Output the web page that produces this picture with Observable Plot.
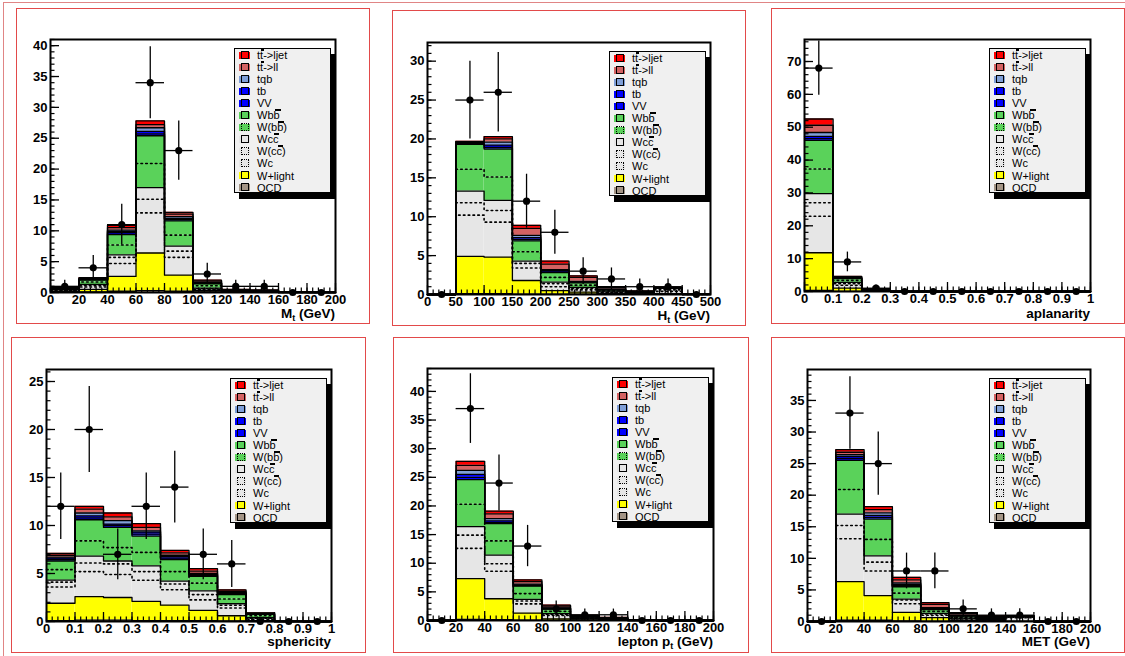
<!DOCTYPE html>
<html><head><meta charset="utf-8">
<script src="https://cdn.jsdelivr.net/npm/d3@7"></script>
<script src="https://cdn.jsdelivr.net/npm/@observablehq/plot@0.6"></script>
<style>
html,body{margin:0;padding:0;background:#fff}
body{width:1125px;height:656px;overflow:hidden;position:relative;font-family:"Liberation Sans",Arial,Helvetica,sans-serif}
.page{position:absolute;left:3px;top:2px;width:1140px;height:670px;border-left:1px solid #e08585;border-top:1px solid #e08585}
.box{position:absolute;border:1px solid #e24a4a;box-sizing:border-box}
.legend{position:absolute;width:97px;height:145px;background:#f0f0f0;border:1px solid #000;box-sizing:border-box;box-shadow:5px 6px 0 #000;font-size:11px;color:#000}
.row{position:absolute;left:0;height:12px;width:95px}
.sw{position:absolute;left:4px;top:2.5px;width:11px;height:7px}
.sq{position:absolute;left:6px;top:1.5px;width:6px;height:6px;border:1.4px solid #000}
.sq.dot{border:1.4px dotted #000}
.lab{position:absolute;left:22px;top:0;line-height:12px;white-space:nowrap}
.ov{position:relative}
.ov::before{content:"";position:absolute;left:1px;right:-1px;top:0px;height:1.8px;background:#000}
.xt{position:absolute;width:250px;text-align:right;font-weight:bold;font-size:13.5px;line-height:13.5px;white-space:nowrap}
.xt sub{font-size:9px;vertical-align:-3px;line-height:0}
</style>
</head><body>
<div class="page"></div>
<script>
// ---- stack components (bottom -> top) ----
const layers = ["QCD","W+light","Wc","W(cc)","Wcc","W(bb)","Wbb","VV","tb","tqb","tt->ll","tt->ljet"];
const layerColors = ["#a39485","#ffff00","#e6e6e6","#e6e6e6","#e6e6e6","#5ad25a","#5ad25a","#0000ff","#0000ff","#7f9fd8","#d46262","#ff0000"];
const layerDotted = [false,false,true,true,false,true,false,false,false,false,false,false];
// legend, top -> bottom
const legendLabels = ['t<span class="ov">t</span>-&gt;ljet','t<span class="ov">t</span>-&gt;ll','tqb','tb','VV','Wb<span class="ov">b</span>','W(b<span class="ov">b</span>)','Wc<span class="ov">c</span>','W(c<span class="ov">c</span>)','Wc','W+light','QCD'];

// ---- Panel 1: M_t ----
const mtEdges = [0,20,40,60,80,100,120,140,160,180,200];
const mtData  = [1,4,11,34,23,3,1,1,0,0];
const mtXTicks = [0,20,40,60,80,100,120,140,160,180,200];
const mtYTicks = [0,5,10,15,20,25,30,35,40];
// cumulative tops of each stacked component (rows follow `layers`)
const mtStack = [
 [0.1,0.1,0.2,0.3,0.2,0.1,0.05,0.05,0,0],
 [0.2,0.5,2.6,6.4,2.8,0.3,0.1,0.1,0,0],
 [0.3,0.9,4.7,12.9,5.7,0.5,0.15,0.12,0.02,0],
 [0.4,1.1,5.7,15.1,6.7,0.6,0.2,0.15,0.03,0],
 [0.45,1.3,6.1,17.0,7.5,0.7,0.25,0.18,0.04,0],
 [0.55,1.7,7.7,20.9,9.3,1.1,0.3,0.22,0.05,0],
 [0.65,2.0,9.4,25.4,11.6,1.4,0.35,0.26,0.06,0.02],
 [0.68,2.1,9.7,25.7,11.8,1.5,0.38,0.28,0.06,0.02],
 [0.7,2.15,9.9,26.1,12.0,1.55,0.4,0.3,0.07,0.02],
 [0.72,2.2,10.1,26.7,12.3,1.65,0.43,0.33,0.07,0.02],
 [0.76,2.3,10.5,27.2,12.7,1.85,0.47,0.37,0.08,0.03],
 [0.8,2.4,10.9,27.8,13.0,2.0,0.5,0.4,0.1,0.04]
];

// ---- Panel 2: H_t ----
const htEdges = [0,50,100,150,200,250,300,350,400,450,500];
const htData  = [0,25,26,12,8,3,2,1,1,0];
const htXTicks = [0,50,100,150,200,250,300,350,400,450,500];
const htYTicks = [0,5,10,15,20,25,30];
const htStack = [
 [0,0.1,0.1,0.05,0.05,0.05,0.05,0.05,0.05,0],
 [0,4.9,4.8,1.8,0.5,0.3,0.1,0.08,0.1,0],
 [0,10.2,9.3,3.4,1.0,0.6,0.2,0.12,0.4,0.02],
 [0,11.8,10.8,4.0,1.4,0.8,0.28,0.15,0.6,0.03],
 [0,13.3,12.1,4.3,1.6,0.9,0.33,0.18,0.8,0.04],
 [0,16.1,15.1,5.5,2.2,1.2,0.45,0.22,0.82,0.05],
 [0,19.3,18.7,6.9,2.8,1.5,0.55,0.28,0.84,0.06],
 [0,19.4,18.9,7.1,3.0,1.6,0.6,0.3,0.85,0.06],
 [0,19.5,19.2,7.3,3.1,1.65,0.65,0.32,0.86,0.07],
 [0,19.55,19.6,7.6,3.2,1.7,0.7,0.35,0.87,0.07],
 [0,19.6,20.0,8.5,3.9,2.2,0.9,0.42,0.9,0.08],
 [0,19.7,20.3,8.9,4.3,2.4,1.0,0.45,0.92,0.08]
];

// ---- Panel 3: aplanarity ----
const apEdges = [0,0.1,0.2,0.3,0.4,0.5,0.6,0.7,0.8,0.9,1];
const apData  = [68,9,1,0,0,0,0,0,0,0];
const apXTicks = [0,0.1,0.2,0.3,0.4,0.5,0.6,0.7,0.8,0.9,1];
const apYTicks = [0,10,20,30,40,50,60,70];
const apStack = [
 [0.3,0.05,0.02,0,0,0,0,0,0,0],
 [11.8,1.0,0.15,0,0,0,0,0,0,0],
 [22.9,1.9,0.3,0,0,0,0,0,0,0],
 [27.0,2.4,0.35,0,0,0,0,0,0,0],
 [29.8,2.8,0.4,0,0,0,0,0,0,0],
 [37.3,3.4,0.5,0,0,0,0,0,0,0],
 [46.0,3.9,0.6,0,0,0,0,0,0,0],
 [46.5,4.0,0.63,0,0,0,0,0,0,0],
 [47.2,4.1,0.66,0,0,0,0,0,0,0],
 [48.4,4.2,0.7,0,0,0,0,0,0,0],
 [50.6,4.45,0.8,0,0,0,0,0,0,0],
 [52.5,4.6,0.9,0,0,0,0,0,0,0]
];

// ---- Panel 4: sphericity ----
const spEdges = [0,0.1,0.2,0.3,0.4,0.5,0.6,0.7,0.8,0.9,1];
const spData  = [12,20,7,12,14,7,6,0,0,0];
const spXTicks = [0,0.1,0.2,0.3,0.4,0.5,0.6,0.7,0.8,0.9,1];
const spYTicks = [0,5,10,15,20,25];
const spStack = [
 [0.1,0.15,0.15,0.1,0.1,0.08,0.05,0.01,0,0],
 [1.9,2.6,2.5,2.1,1.7,1.15,0.6,0.1,0,0],
 [3.6,5.2,4.9,4.3,3.3,2.25,1.4,0.25,0,0],
 [4.1,6.1,6.0,5.2,3.9,2.8,1.7,0.35,0,0],
 [4.3,6.8,6.3,5.8,4.2,3.2,1.85,0.4,0,0],
 [5.4,8.4,7.7,7.2,5.2,4.0,2.35,0.6,0,0],
 [6.3,10.6,9.8,8.9,6.45,4.7,2.8,0.75,0.01,0],
 [6.45,10.8,10.0,9.1,6.6,4.8,2.9,0.78,0.01,0],
 [6.6,11.0,10.15,9.3,6.75,4.9,2.95,0.8,0.01,0],
 [6.7,11.3,10.5,9.45,6.9,5.0,3.0,0.82,0.01,0],
 [6.9,11.7,10.9,9.8,7.15,5.25,3.15,0.86,0.02,0],
 [7.1,12.0,11.3,10.2,7.4,5.5,3.3,0.9,0.02,0]
];

// ---- Panel 5: lepton p_t ----
const ptEdges = [0,20,40,60,80,100,120,140,160,180,200];
const ptData  = [0,37,24,13,2,1,1,0,0,0];
const ptXTicks = [0,20,40,60,80,100,120,140,160,180,200];
const ptYTicks = [0,5,10,15,20,25,30,35,40];
const ptStack = [
 [0,0.2,0.15,0.05,0.02,0.01,0.01,0,0,0],
 [0,7.3,3.8,1.3,0.3,0.1,0.05,0,0,0],
 [0,12.6,8.6,2.9,0.9,0.3,0.15,0.02,0,0],
 [0,14.9,9.9,3.4,1.1,0.35,0.2,0.03,0,0],
 [0,16.4,11.4,3.7,1.2,0.4,0.25,0.04,0,0],
 [0,20.3,13.9,4.7,1.6,0.5,0.3,0.05,0,0],
 [0,24.6,16.9,6.0,2.0,0.6,0.35,0.06,0,0],
 [0,25.0,17.1,6.1,2.1,0.65,0.37,0.06,0,0],
 [0,25.5,17.4,6.2,2.15,0.7,0.4,0.07,0,0],
 [0,26.2,17.8,6.35,2.2,0.72,0.42,0.07,0,0],
 [0,27.1,18.6,6.8,2.5,0.8,0.5,0.08,0,0],
 [0,27.8,19.1,7.1,2.7,0.9,0.55,0.1,0,0]
];

// ---- Panel 6: MET ----
const metEdges = [0,20,40,60,80,100,120,140,160,180,200];
const metData  = [0,33,25,8,8,2,1,1,0,0];
const metXTicks = [0,20,40,60,80,100,120,140,160,180,200];
const metYTicks = [0,5,10,15,20,25,30,35];
const metStack = [
 [0,0.2,0.2,0.1,0.05,0.03,0.02,0.01,0,0],
 [0,6.3,4.1,1.45,0.6,0.2,0.1,0.05,0,0],
 [0,13.1,8.0,2.8,1.0,0.4,0.2,0.6,0,0],
 [0,15.2,9.4,3.4,1.2,0.5,0.25,0.7,0,0],
 [0,17.0,10.4,3.55,1.3,0.55,0.3,0.8,0,0],
 [0,20.9,13.0,4.5,1.6,0.7,0.4,0.82,0,0],
 [0,25.5,16.2,5.5,1.9,0.85,0.5,0.84,0,0],
 [0,25.8,16.5,5.7,2.0,0.9,0.55,0.85,0,0],
 [0,26.1,16.8,5.9,2.1,0.95,0.6,0.86,0,0],
 [0,26.4,17.2,6.1,2.2,1.0,0.65,0.87,0,0],
 [0,26.8,17.7,6.6,2.7,1.25,0.8,0.9,0,0],
 [0,27.2,18.2,7.0,3.0,1.4,0.9,0.92,0,0]
];

// ---- layout ----
const panels = [
 {edges:mtEdges,data:mtData,stack:mtStack,xTicks:mtXTicks,yTicks:mtYTicks,yMax:41,xMinor:4,yMinor:1,box:[16,8,369,323],frame:[50,39,335,292],title:'M<sub>t</sub> (GeV)',base:318},
 {edges:htEdges,data:htData,stack:htStack,xTicks:htXTicks,yTicks:htYTicks,yMax:32.4,xMinor:10,yMinor:1,box:[392,10,745,325],frame:[427,42,710,294],title:'H<sub>t</sub> (GeV)',base:320},
 {edges:apEdges,data:apData,stack:apStack,xTicks:apXTicks,yTicks:apYTicks,yMax:76.7,xMinor:0.02,yMinor:2,box:[771,8,1124,323],frame:[804,39,1090,291],title:'aplanarity',base:318},
 {edges:spEdges,data:spData,stack:spStack,xTicks:spXTicks,yTicks:spYTicks,yMax:26.25,xMinor:0.02,yMinor:1,box:[11,337,365,652],frame:[46,369,331,621],title:'sphericity',base:646},
 {edges:ptEdges,data:ptData,stack:ptStack,xTicks:ptXTicks,yTicks:ptYTicks,yMax:44,xMinor:4,yMinor:1,box:[393,337,748,652],frame:[427,368,713,620],title:'lepton p<sub>t</sub> (GeV)',base:646},
 {edges:metEdges,data:metData,stack:metStack,xTicks:metXTicks,yTicks:metYTicks,yMax:39.9,xMinor:4,yMinor:1,box:[771,337,1124,652],frame:[807,369,1090,621],title:'MET (GeV)',base:646}
];

function el(cls, css, html) {
  const d = document.createElement("div");
  d.className = cls;
  Object.assign(d.style, css);
  if (html != null) d.innerHTML = html;
  document.body.appendChild(d);
  return d;
}

function drawPanel(p) {
  const [bL,bT,bR,bB] = p.box, [fL,fT,fR,fB] = p.frame;
  const W = bR - bL, H = bB - bT;
  const nb = p.edges.length - 1;
  const xMin = p.edges[0], xMax = p.edges[nb];
  const rects = [], steps = [];
  layers.forEach((name, li) => {
    for (let b = 0; b < nb; b++) {
      const y2 = p.stack[li][b], y1 = li ? p.stack[li-1][b] : 0;
      if (y2 > y1) rects.push({layer:name, x1:p.edges[b], x2:p.edges[b+1], y1, y2});
      steps.push({layer:name, dotted:layerDotted[li], x:p.edges[b], y:y2});
      steps.push({layer:name, dotted:layerDotted[li], x:p.edges[b+1], y:y2});
    }
  });
  const pts = p.data.map((n, b) => ({lo:p.edges[b], hi:p.edges[b+1], c:(p.edges[b]+p.edges[b+1])/2, n, e:Math.sqrt(n)}));
  const innerW = fR - fL, innerH = fB - fT;
  const xMajLen = 9 * p.yMax / innerH, xMinLen = 4.5 * p.yMax / innerH;
  const yMajLen = 9 * (xMax - xMin) / innerW, yMinLen = 4.5 * (xMax - xMin) / innerW;
  const xMinorTicks = d3.range(xMin, xMax + 1e-9, p.xMinor);
  const yMinorTicks = d3.range(0, p.yMax + 1e-9, p.yMinor);

  el("box", {left:bL+"px", top:bT+"px", width:(bR-bL+1)+"px", height:(bB-bT+1)+"px"});

  const svg = Plot.plot({
    width: W, height: H,
    marginLeft: fL - bL, marginRight: bR - fR, marginTop: fT - bT, marginBottom: bB - fB,
    x: {domain: [xMin, xMax]},
    y: {domain: [0, p.yMax]},
    color: {domain: layers, range: layerColors},
    style: {fontFamily: "'Liberation Sans', Arial, Helvetica, sans-serif", fontSize: "13px", fontWeight: "bold", background: "transparent", color: "#000", overflow: "visible"},
    marks: [
      Plot.rect(rects, {x1:"x1", x2:"x2", y1:"y1", y2:"y2", fill:"layer"}),
      Plot.line(steps.filter(d => !d.dotted), {x:"x", y:"y", z:"layer", stroke:"#000", strokeWidth:1.3}),
      Plot.line(steps.filter(d => d.dotted), {x:"x", y:"y", z:"layer", stroke:"#000", strokeWidth:1.6, strokeDasharray:"1.6,3.2"}),
      Plot.ruleY(pts, {y:"n", x1:"lo", x2:"hi", stroke:"#000", strokeWidth:1.3}),
      Plot.ruleX(pts, {x:"c", y1:d => d.n - d.e, y2:d => d.n + d.e, stroke:"#000", strokeWidth:1.3}),
      Plot.dot(pts, {x:"c", y:"n", r:3.6, fill:"#000", stroke:"none"}),
      Plot.ruleX(p.xTicks, {x:d => d, y1:0, y2:xMajLen, stroke:"#000", strokeWidth:1.3}),
      Plot.ruleX(xMinorTicks, {x:d => d, y1:0, y2:xMinLen, stroke:"#000", strokeWidth:1.2}),
      Plot.ruleY(p.yTicks, {y:d => d, x1:xMin, x2:xMin + yMajLen, stroke:"#000", strokeWidth:1.3}),
      Plot.ruleY(yMinorTicks, {y:d => d, x1:xMin, x2:xMin + yMinLen, stroke:"#000", strokeWidth:1.2}),
      Plot.frame({stroke:"#000", strokeWidth:2}),
      Plot.axisX({ticks:p.xTicks, tickSize:0, tickPadding:2, label:null, tickFormat:d => String(d)}),
      Plot.axisY({ticks:p.yTicks, tickSize:0, tickPadding:3, label:null, tickFormat:d => String(d)})
    ]
  });
  svg.style.left = bL + "px";
  svg.style.top = bT + "px";
  svg.style.position = "absolute";
  document.body.appendChild(svg);

  // x-axis title
  el("xt", {left:(fR - 250)+"px", top:(p.base - 11.4)+"px"}, p.title);

  // legend
  const lg = el("legend", {left:(fR - 4 - 97)+"px", top:(fT + 9)+"px"});
  legendLabels.forEach((lab, i) => {
    const li = layers.length - 1 - i;
    const row = document.createElement("div");
    row.className = "row";
    row.style.top = (i * 12.05) + "px";
    row.innerHTML = `<div class="sw" style="background:${layerColors[li]}"></div><div class="sq${layerDotted[li] ? " dot" : ""}"></div><div class="lab">${lab}</div>`;
    lg.appendChild(row);
  });
}

panels.forEach(drawPanel);
</script>
</body></html>
